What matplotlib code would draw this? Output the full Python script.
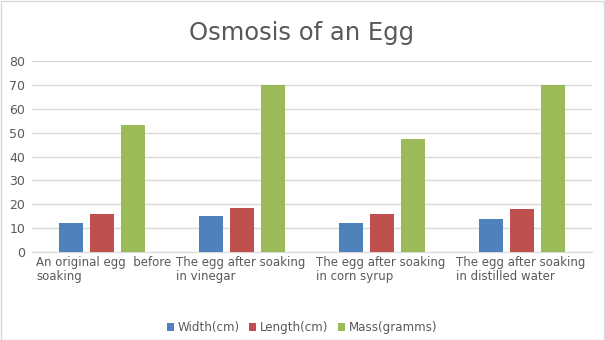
import numpy as np
import matplotlib
matplotlib.use('Agg')
import matplotlib.pyplot as plt
from matplotlib.patches import Rectangle

# chart data
categories = ['An original egg  before\nsoaking',
              'The egg after soaking\nin vinegar',
              'The egg after soaking\nin corn syrup',
              'The egg after soaking\nin distilled water']
width_cm = [12.3, 15.1, 12.2, 13.9]
length_cm = [16.0, 18.5, 16.0, 18.1]
mass_g = [53.3, 70.0, 47.5, 70.0]
series_names = ['Width(cm)', 'Length(cm)', 'Mass(gramms)']
colors = ['#4f81bd', '#c0504d', '#9bbb59']
yticks = [0, 10, 20, 30, 40, 50, 60, 70, 80]

text_gray = '#595959'
W, H = 605, 340

fig = plt.figure(figsize=(W / 100, H / 100), dpi=100)
fig.patches.append(Rectangle((0.5 / W, 0.5 / H), 1 - 1.5 / W, 1 - 1.5 / H,
                             transform=fig.transFigure, fill=False,
                             edgecolor='#d9d9d9', linewidth=1))

# axes box in pixels: left 32, right 592, top 61, bottom 252
ax = fig.add_axes([32 / W, 1 - 252 / H, (592 - 32) / W, (252 - 61) / H])

x = np.arange(len(categories))
bar_w = 24 / 140
step = 31 / 140
for i, vals in enumerate([width_cm, length_cm, mass_g]):
    ax.bar(x + (i - 1) * step, vals, width=bar_w, color=colors[i],
           label=series_names[i], zorder=3)

ax.set_xlim(-0.5, len(categories) - 0.5)
ax.set_ylim(0, 80)
ax.set_yticks(yticks)
ax.yaxis.grid(True, color='#d9d9d9', linewidth=1, zorder=0)
for s in ['top', 'right', 'left']:
    ax.spines[s].set_visible(False)
ax.spines['bottom'].set_color('#d9d9d9')
ax.tick_params(axis='y', length=0, pad=5, labelsize=9, labelcolor=text_gray)
ax.set_xticks([])

# category labels, left aligned at each category's start
for i, lab in enumerate(categories):
    ax.text(i - 0.5 + 4 / 140, -1.8, lab, ha='left', va='top',
            fontsize=8.5, color=text_gray, linespacing=1.1)

fig.text(302 / W, 1 - 33 / H, 'Osmosis of an Egg', ha='center', va='center',
         fontsize=17.5, color=text_gray)

leg = fig.legend(loc='center', bbox_to_anchor=(302 / W, 1 - 328 / H), ncol=3,
                 frameon=False, fontsize=8.6, handlelength=0.6, handleheight=0.6,
                 handletextpad=0.3, columnspacing=0.8)
for t in leg.get_texts():
    t.set_color(text_gray)

fig.savefig('out.png', dpi=100)
